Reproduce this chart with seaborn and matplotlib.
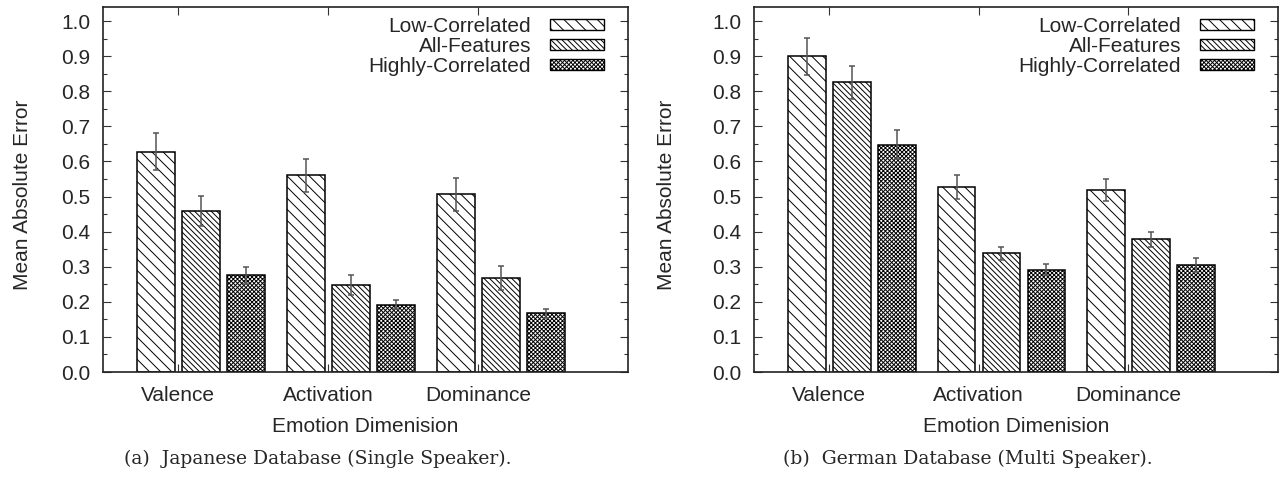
import matplotlib
matplotlib.use("Agg")
import matplotlib.pyplot as plt
from matplotlib.patches import Patch
from matplotlib.ticker import MultipleLocator, FormatStrFormatter
import seaborn as sns
import pandas as pd

# categories and feature sets
dimensions = ["Valence", "Activation", "Dominance"]
feature_sets = ["Low-Correlated", "All-Features", "Highly-Correlated"]

# (a) Japanese database - mean absolute error per feature set (Valence, Activation, Dominance)
jp_low = [0.628, 0.560, 0.506]
jp_all = [0.458, 0.247, 0.268]
jp_high = [0.276, 0.192, 0.167]
jp_low_err = [0.053, 0.046, 0.047]
jp_all_err = [0.043, 0.029, 0.034]
jp_high_err = [0.024, 0.012, 0.012]

# (b) German database
de_low = [0.899, 0.526, 0.518]
de_all = [0.825, 0.338, 0.378]
de_high = [0.648, 0.292, 0.304]
de_low_err = [0.053, 0.034, 0.032]
de_all_err = [0.048, 0.018, 0.022]
de_high_err = [0.041, 0.016, 0.020]

captions = ["(a)  Japanese Database (Single Speaker).",
            "(b)  German Database (Multi Speaker)."]

hatches = ["\\\\\\", "\\\\\\\\\\\\", "xxxxxxxx"]

FS = 15


def make_df(low, allf, high, low_e, all_e, high_e):
    rows = []
    for s, vals, errs in zip(feature_sets, [low, allf, high], [low_e, all_e, high_e]):
        for d, v, e in zip(dimensions, vals, errs):
            rows.append({"dim": d, "set": s, "mae": v, "err": e})
    return pd.DataFrame(rows)


sns.set_style("ticks")
plt.rcParams["font.family"] = ["Liberation Sans", "DejaVu Sans"]
plt.rcParams["font.size"] = FS
plt.rcParams["hatch.linewidth"] = 0.7
plt.rcParams["axes.linewidth"] = 1.2
plt.rcParams["axes.edgecolor"] = "#222222"

W, H = 1283, 484
fig = plt.figure(figsize=(W / 100, H / 100), dpi=100)

panels = [
    (make_df(jp_low, jp_all, jp_high, jp_low_err, jp_all_err, jp_high_err), 103, 628, 32),
    (make_df(de_low, de_all, de_high, de_low_err, de_all_err, de_high_err), 754, 1278, 676),
]

for k, (df, x0, x1, ylab_x) in enumerate(panels):
    ax = fig.add_axes([x0 / W, 1 - 372 / H, (x1 - x0) / W, (372 - 7) / H])
    sns.barplot(data=df, x="dim", y="mae", hue="set", hue_order=feature_sets,
                order=dimensions, palette=["white"] * 3, edgecolor="black",
                linewidth=1.1, width=0.9, gap=0.16, errorbar=None,
                legend=False, ax=ax)
    for cont, hatch, s in zip(ax.containers, hatches, feature_sets):
        sub = df[df["set"] == s].set_index("dim").loc[dimensions]
        xs = []
        for bar in cont:
            bar.set_hatch(hatch)
            xs.append(bar.get_x() + bar.get_width() / 2)
        ax.errorbar(xs, sub["mae"], yerr=sub["err"], fmt="none",
                    ecolor="#555555", elinewidth=1.1, capsize=2.5, capthick=1.1)

    ax.set_xlim(-0.653, 2.847)
    ax.set_ylim(0, 1.04)
    ax.set_xticks([i - 0.153 for i in range(len(dimensions))])
    ax.set_xticklabels(dimensions)
    ax.yaxis.set_major_locator(MultipleLocator(0.1))
    ax.yaxis.set_minor_locator(MultipleLocator(0.05))
    ax.yaxis.set_major_formatter(FormatStrFormatter("%.1f"))
    ax.tick_params(axis="both", which="both", direction="in", top=True, right=True,
                   labelsize=FS, width=0.8, color="#333333")
    ax.tick_params(axis="both", which="major", length=6, pad=9)
    ax.tick_params(axis="both", which="minor", length=3)
    ax.tick_params(axis="x", pad=10)
    ax.set_xlabel("Emotion Dimenision", fontsize=FS, labelpad=9)
    ax.set_ylabel("Mean Absolute Error", fontsize=FS)
    ax.yaxis.set_label_coords((ylab_x - x0) / (x1 - x0), 0.485)

    handles = [Patch(facecolor="white", edgecolor="black", hatch=h, label=s)
               for h, s in zip(hatches, feature_sets)]
    ax.legend(handles=handles, loc="upper right",
              bbox_to_anchor=((x1 - x0 - 24) / (x1 - x0), 0.973),
              frameon=False, markerfirst=False, handlelength=2.6, handleheight=0.5,
              handletextpad=0.9, labelspacing=0.05, borderpad=0, borderaxespad=0,
              fontsize=FS)

    cx = (x0 - 48 + x1 - 48) / 2 / W
    fig.text(cx, 1 - 459 / H, captions[k], ha="center", va="center",
             family=["DejaVu Serif"], fontsize=13.5)

fig.savefig("out.png", dpi=100)
